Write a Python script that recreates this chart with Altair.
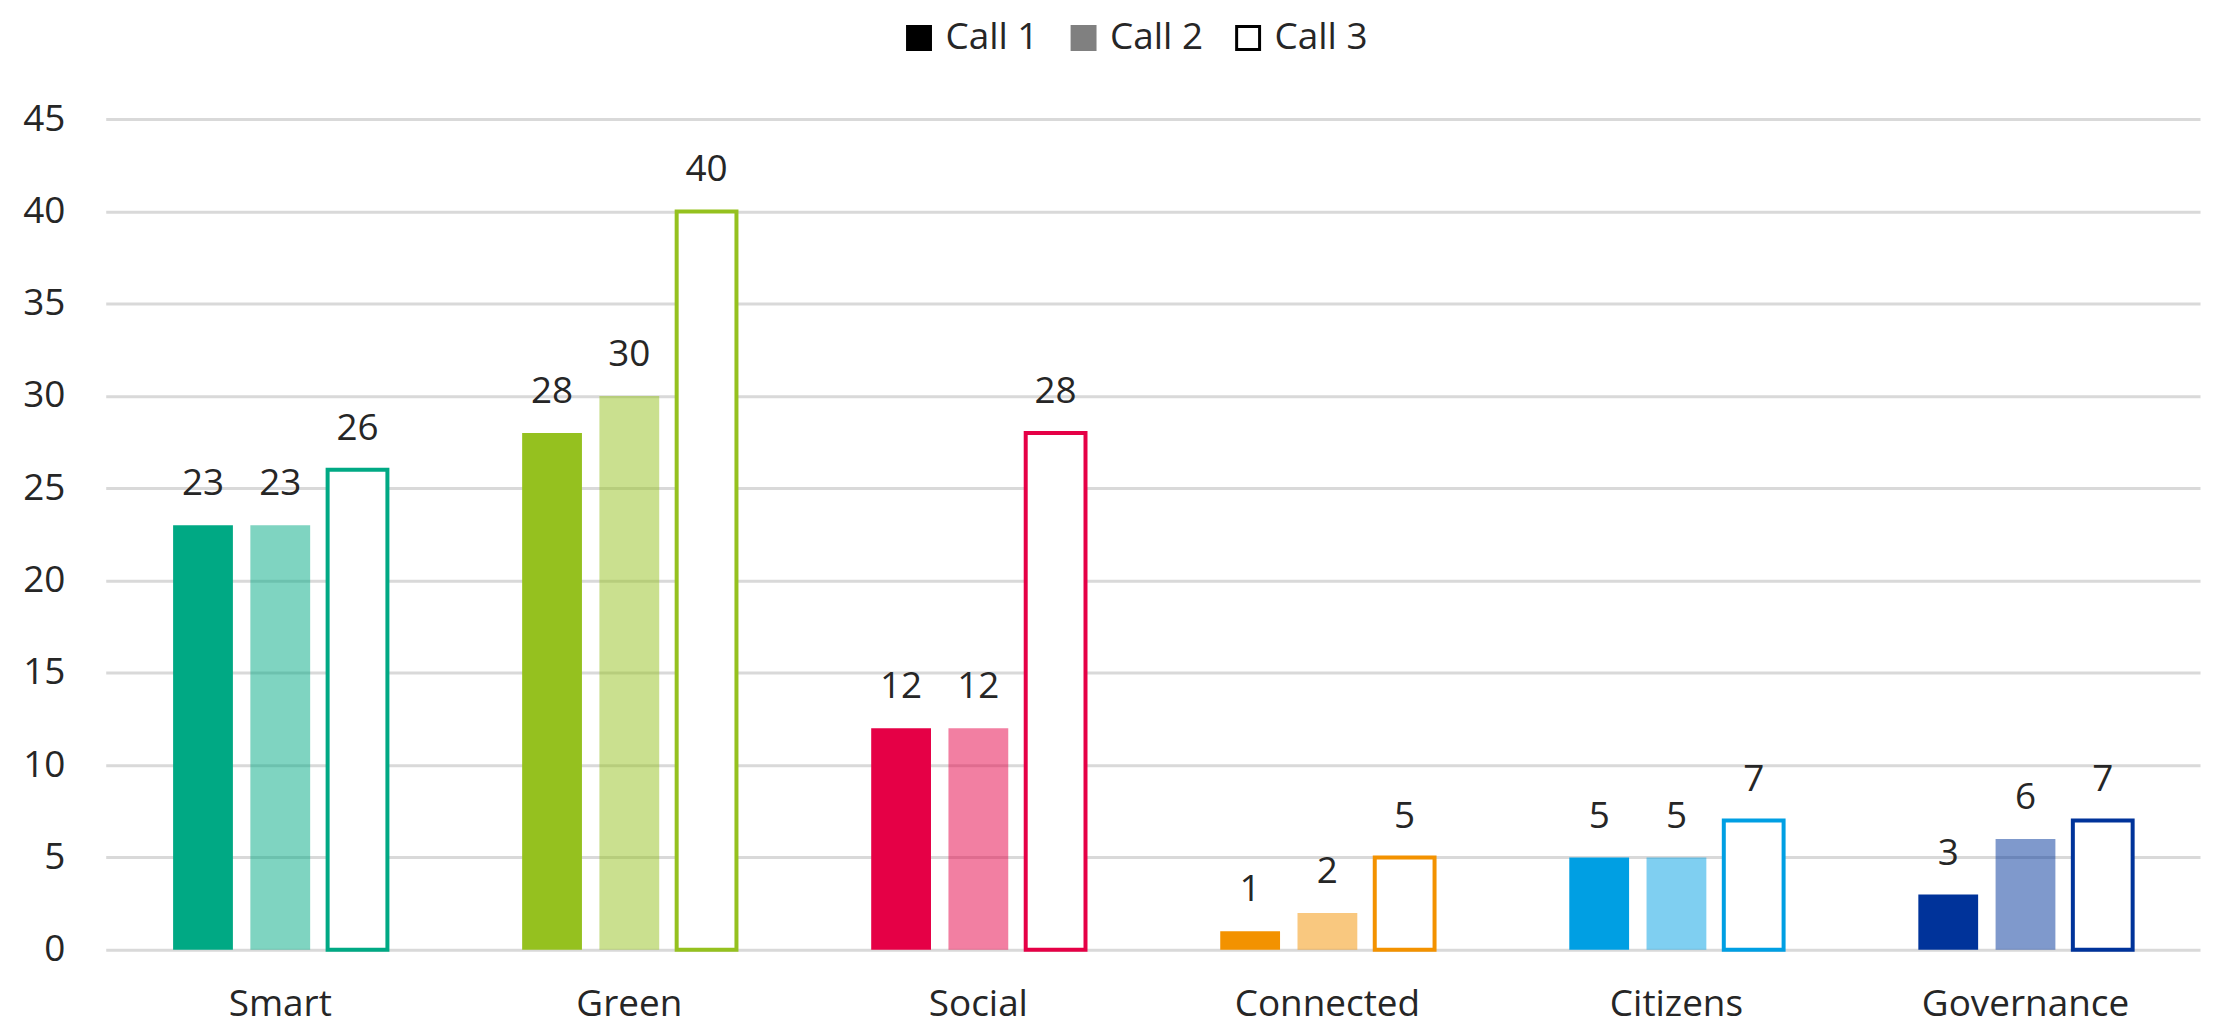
import altair as alt
import pandas as pd

categories = ["Smart", "Green", "Social", "Connected", "Citizens", "Governance"]
calls = ["Call 1", "Call 2", "Call 3"]
call1 = [23, 28, 12, 1, 5, 3]
call2 = [23, 30, 12, 2, 5, 6]
call3 = [26, 40, 28, 5, 7, 7]
base_colors = ["#00A984", "#95C11F", "#E50046", "#F39200", "#009FE3", "#00339A"]
legend_fill = ["#000000", "#808080", "#ffffff"]
legend_stroke = ["#000000", "#808080", "#000000"]

rows = []
for i, cat in enumerate(categories):
    for call, vals, alpha in zip(calls, [call1, call2, call3], [1.0, 0.5, 1.0]):
        rows.append({"cat": cat, "call": call, "value": vals[i],
                     "color": base_colors[i], "alpha": alpha})
df = pd.DataFrame(rows)

FONT = "Open Sans"
TXT = "#262626"
FS = 37

x_enc = alt.X("cat:N", sort=categories, title=None,
              scale=alt.Scale(paddingInner=0.336, paddingOuter=0.168),
              axis=alt.Axis(domain=False, ticks=False, labelAngle=0, labelPadding=37,
                            labelLimit=0, labelFontSize=FS, labelFont=FONT,
                            labelColor=TXT, grid=False))
xo_enc = alt.XOffset("call:N", scale=alt.Scale(domain=calls, paddingInner=0.226, paddingOuter=0.113))
y_enc = alt.Y("value:Q", title=None,
              scale=alt.Scale(domain=[0, 45], nice=False),
              axis=alt.Axis(values=list(range(0, 50, 5)), grid=True, gridColor="#d9d9d9",
                            gridWidth=3, domain=False, ticks=False, labelPadding=41,
                            labelFontSize=FS, labelFont=FONT, labelColor=TXT))

base = alt.Chart(df)

filled = base.transform_filter(alt.datum.call != "Call 3").mark_bar().encode(
    x=x_enc, xOffset=xo_enc, y=y_enc,
    fill=alt.Fill("color:N", scale=None, legend=None),
    fillOpacity=alt.FillOpacity("alpha:Q", scale=None, legend=None),
)

outlined = base.transform_filter(alt.datum.call == "Call 3").mark_bar(
    fill="white", strokeWidth=4
).encode(
    x=x_enc, xOffset=xo_enc, y=y_enc,
    stroke=alt.Stroke("color:N", scale=None, legend=None),
)

labels = base.mark_text(baseline="alphabetic", dy=-30, fontSize=FS, font=FONT, color=TXT).encode(
    x=x_enc, xOffset=xo_enc, y=y_enc, text=alt.Text("value:Q"),
)

legend_cfg = dict(title=None, orient="none", legendX=797, legendY=-100,
                  direction="horizontal", columns=3, symbolType="square",
                  symbolSize=529, symbolStrokeWidth=3, symbolOpacity=1,
                  labelFontSize=FS, labelFont=FONT, labelColor=TXT,
                  labelOffset=8, columnPadding=26)

legend_layer = base.mark_square(opacity=0).encode(
    x=x_enc, xOffset=xo_enc, y=alt.Y("value:Q"),
    fill=alt.Fill("call:N", scale=alt.Scale(domain=calls, range=legend_fill),
                  legend=alt.Legend(**legend_cfg)),
    stroke=alt.Stroke("call:N", scale=alt.Scale(domain=calls, range=legend_stroke),
                      legend=alt.Legend(**legend_cfg)),
)

chart = alt.layer(filled, outlined, labels, legend_layer).resolve_scale(
    fill="independent", stroke="independent"
).properties(
    width=2100, height=833,
    padding={"left": 98, "top": 110, "right": 5, "bottom": 80},
    autosize="none",
).configure_view(stroke=None)

chart.save("out.html", embed_options={"renderer": "svg", "actions": False})
